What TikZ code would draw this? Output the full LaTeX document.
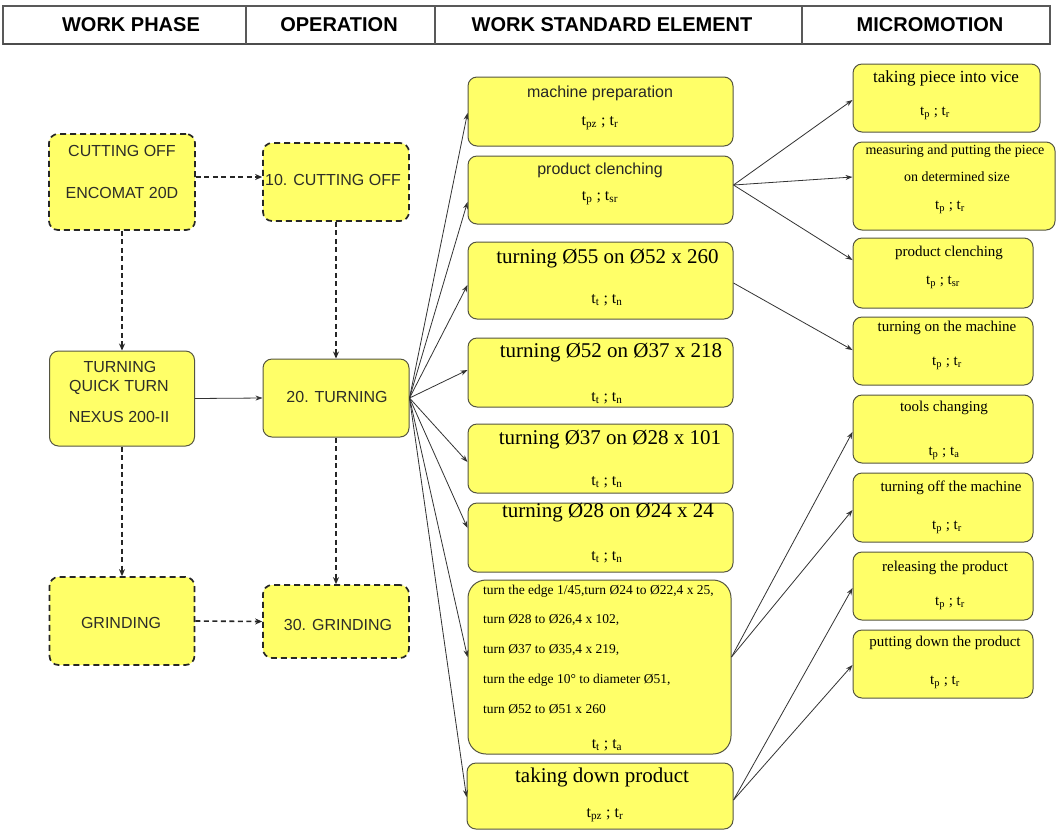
\documentclass[tikz,border=0pt]{standalone}
\usepackage{fontspec}
\setmainfont{Liberation Serif}
\setsansfont{Liberation Sans}
\usetikzlibrary{arrows.meta}
\definecolor{boxyellow}{RGB}{255,255,104}
\definecolor{boxline}{RGB}{85,85,65}
\definecolor{txtgray}{RGB}{45,45,40}
\tikzset{
  ybox/.style={draw=boxline, fill=boxyellow, rounded corners=9pt, line width=1pt, inner sep=0pt},
  dbox/.style={draw=black!85, fill=boxyellow, rounded corners=9pt, line width=1.7pt, dash pattern=on 6pt off 4pt, inner sep=0pt},
  hdr/.style={font=\sffamily\bfseries\fontsize{20}{22}\selectfont, inner sep=0pt},
  sanst/.style={font=\sffamily\fontsize{16}{18}\selectfont, text=txtgray, inner sep=0pt},
  sersm/.style={font=\fontsize{15}{17}\selectfont, inner sep=0pt},
  serbig/.style={font=\fontsize{21}{23}\selectfont, inner sep=0pt},
  sertiny/.style={font=\fontsize{13.5}{15}\selectfont, inner sep=0pt, anchor=west},
  tline/.style={font=\fontsize{16}{18}\selectfont, inner sep=0pt},
  arr/.style={draw=black!80, line width=0.8pt, -{Stealth[length=7pt,width=5pt]}},
  darr/.style={draw=black!85, line width=1.6pt, dash pattern=on 5pt off 3.5pt, -{Stealth[length=7pt,width=6pt]}}
}
\begin{document}
\begin{tikzpicture}[x=1pt,y=-1pt]
\useasboundingbox (0,0) rectangle (1057,831);
\fill[white] (0,0) rectangle (1057,831);
% header
\draw[black!65, line width=1.2pt] (3,6) rectangle (1050,44);
\draw[black!70, line width=2pt] (3,44) -- (1050,44);
\draw[black!65, line width=1.2pt] (246,6) -- (246,44);
\draw[black!65, line width=1.2pt] (435,6) -- (435,44);
\draw[black!65, line width=1.2pt] (802,6) -- (802,44);
\node[hdr] (h1) at (131,25) {WORK PHASE};
\node[hdr] (h2) at (339,25) {OPERATION};
\node[hdr] (h3) at (612,25) {WORK STANDARD ELEMENT};
\node[hdr] (h4) at (930,25) {MICROMOTION};

% column 1
\node[dbox, minimum width=146pt, minimum height=96pt] (cut1) at (122,182) {};
\node[sanst] (cut1a) at (122,151) {CUTTING OFF};
\node[sanst] (cut1b) at (122,193) {ENCOMAT 20D};
\node[ybox, minimum width=145pt, minimum height=95pt] (turn1) at (122,398.5) {};
\node[sanst] (turn1a) at (120,367) {TURNING};
\node[sanst] (turn1b) at (119,387) {QUICK TURN};
\node[sanst] (turn1c) at (119,417) {NEXUS 200-II};
\node[dbox, minimum width=145pt, minimum height=88pt] (grind1) at (122,621) {};
\node[sanst] (grind1a) at (121,623) {GRINDING};

% column 2
\node[dbox, minimum width=146pt, minimum height=78pt] (cut2) at (336,182) {};
\node[sanst] (cut2a) at (333,180) {10. CUTTING OFF};
\node[ybox, minimum width=146pt, minimum height=78pt] (turn2) at (336,398) {};
\node[sanst] (turn2a) at (337,397) {20. TURNING};
\node[dbox, minimum width=146pt, minimum height=73pt] (grind2) at (336,621.5) {};
\node[sanst] (grind2a) at (338,625) {30. GRINDING};

% column 1/2 connectors
\draw[darr] ([yshift=5pt]cut1.east) -- ([yshift=5pt]cut2.west);
\draw[darr] (cut1.south) -- (turn1.north);
\draw[darr] (turn1.south) -- (grind1.north);
\draw[darr] (cut2.south) -- (turn2.north);
\draw[darr] (turn2.south) -- (grind2.north);
\draw[arr] (turn1.east) -- (turn2.west);
\draw[darr] (grind1.east) -- (grind2.west);

% column 3
\node[ybox, minimum width=265pt, minimum height=69pt] (prep) at (600.5,111.5) {};
\node[sanst, text=black!85] (prepa) at (600,93) {machine preparation};
\node[tline] (prepb) at (600,123) {t\textsubscript{pz} ; t\textsubscript{r}};
\node[ybox, minimum width=265pt, minimum height=68pt] (clench) at (600.5,190) {};
\node[sanst, text=black!85] (clencha) at (600,170) {product clenching};
\node[tline] (clenchb) at (600,198) {t\textsubscript{p} ; t\textsubscript{sr}};
\node[ybox, minimum width=265pt, minimum height=77pt] (t55) at (600.5,280.5) {};
\node[serbig] (t55a) at (607.5,259) {turning Ø55 on Ø52 x 260};
\node[tline] (t55b) at (607,300) {t\textsubscript{t} ; t\textsubscript{n}};
\node[ybox, minimum width=265pt, minimum height=69pt] (t52) at (600.5,372.5) {};
\node[serbig] (t52a) at (611,353) {turning Ø52 on Ø37 x 218};
\node[tline] (t52b) at (607,398) {t\textsubscript{t} ; t\textsubscript{n}};
\node[ybox, minimum width=265pt, minimum height=69pt] (t37) at (600.5,458.5) {};
\node[serbig] (t37a) at (610,440) {turning Ø37 on Ø28 x 101};
\node[tline] (t37b) at (607,482) {t\textsubscript{t} ; t\textsubscript{n}};
\node[ybox, minimum width=265pt, minimum height=69pt] (t28) at (600.5,537.5) {};
\node[serbig] (t28a) at (608,513) {turning Ø28 on Ø24 x 24};
\node[tline] (t28b) at (607,557) {t\textsubscript{t} ; t\textsubscript{n}};
\node[ybox, rounded corners=18pt, minimum width=263pt, minimum height=174pt] (big) at (599.5,667) {};
\node[sertiny] (biga) at (483,591) {turn the edge 1/45,turn Ø24 to Ø22,4 x 25,};
\node[sertiny] (bigb) at (483,620) {turn Ø28 to Ø26,4 x 102,};
\node[sertiny] (bigc) at (483,650) {turn Ø37 to Ø35,4 x 219,};
\node[sertiny] (bigd) at (483,680) {turn the edge 10° to diameter Ø51,};
\node[sertiny] (bige) at (483,709) {turn Ø52 to Ø51 x 260};
\node[tline] (bigf) at (607,745) {t\textsubscript{t} ; t\textsubscript{a}};
\node[ybox, minimum width=266pt, minimum height=66pt] (down) at (600,796) {};
\node[serbig] (downa) at (602,777) {taking down product};
\node[tline] (downb) at (605,815) {t\textsubscript{pz} ; t\textsubscript{r}};

% column 4
\node[ybox, minimum width=187pt, minimum height=68pt] (vice) at (946.5,98) {};
\node[font=\fontsize{17}{19}\selectfont, inner sep=0pt] (vicea) at (946,78) {taking piece into vice};
\node[sersm] (viceb) at (935,113) {t\textsubscript{p} ; t\textsubscript{r}};
\node[ybox, minimum width=202pt, minimum height=88pt] (meas) at (954,186) {};
\node[font=\fontsize{14}{16}\selectfont, inner sep=0pt] (measa) at (955,151) {measuring and putting the piece};
\node[font=\fontsize{14}{16}\selectfont, inner sep=0pt] (measb) at (957,177) {on determined size};
\node[sersm] (measc) at (950,207) {t\textsubscript{p} ; t\textsubscript{r}};
\node[ybox, minimum width=180pt, minimum height=70pt] (clench4) at (943,273) {};
\node[sersm] (clench4a) at (949,253) {product clenching};
\node[sersm] (clench4b) at (943,282) {t\textsubscript{p} ; t\textsubscript{sr}};
\node[ybox, minimum width=180pt, minimum height=68pt] (on) at (943,351) {};
\node[sersm] (ona) at (947,328) {turning on the machine};
\node[sersm] (onb) at (947,363) {t\textsubscript{p} ; t\textsubscript{r}};
\node[ybox, minimum width=180pt, minimum height=68pt] (tools) at (943,429) {};
\node[sersm] (toolsa) at (944,408) {tools changing};
\node[sersm] (toolsb) at (944,453) {t\textsubscript{p} ; t\textsubscript{a}};
\node[ybox, minimum width=180pt, minimum height=69pt] (off) at (943,507.5) {};
\node[sersm] (offa) at (951,488) {turning off the machine};
\node[sersm] (offb) at (947,527) {t\textsubscript{p} ; t\textsubscript{r}};
\node[ybox, minimum width=180pt, minimum height=68pt] (rel) at (943,586) {};
\node[sersm] (rela) at (945,568) {releasing the product};
\node[sersm] (relb) at (950,603) {t\textsubscript{p} ; t\textsubscript{r}};
\node[ybox, minimum width=180pt, minimum height=68pt] (put) at (943,664) {};
\node[sersm] (puta) at (945,643) {putting down the product};
\node[sersm] (putb) at (945,682) {t\textsubscript{p} ; t\textsubscript{r}};

% column 2 -> 3
\draw[arr] (turn2.east) -- ([yshift=-1.5pt]prep.west);
\draw[arr] (turn2.east) -- ([yshift=-12pt]clench.west);
\draw[arr] (turn2.east) -- ([yshift=-4.5pt]t55.west);
\draw[arr] (turn2.east) -- ([yshift=2.5pt]t52.west);
\draw[arr] (turn2.east) -- ([yshift=-3.5pt]t37.west);
\draw[arr] (turn2.east) -- ([yshift=9.5pt]t28.west);
\draw[arr] (turn2.east) -- ([yshift=10pt]big.west);
\draw[arr] (turn2.east) -- ([yshift=-1pt]down.west);

% column 3 -> 4
\draw[arr] ([yshift=5pt]clench.east) -- ([yshift=-2pt]vice.west);
\draw[arr] ([yshift=5pt]clench.east) -- ([yshift=9pt]meas.west);
\draw[arr] ([yshift=5pt]clench.east) -- ([yshift=13pt]clench4.west);
\draw[arr] ([yshift=-2.5pt]t55.east) -- ([yshift=1pt]on.west);
\draw[arr] ([yshift=10pt]big.east) -- ([yshift=-3pt]tools.west);
\draw[arr] ([yshift=10pt]big.east) -- ([yshift=-2.5pt]off.west);
\draw[arr] ([yshift=-4pt]down.east) -- ([yshift=-2pt]rel.west);
\draw[arr] ([yshift=-4pt]down.east) -- ([yshift=-1pt]put.west);
\end{tikzpicture}
\end{document}
